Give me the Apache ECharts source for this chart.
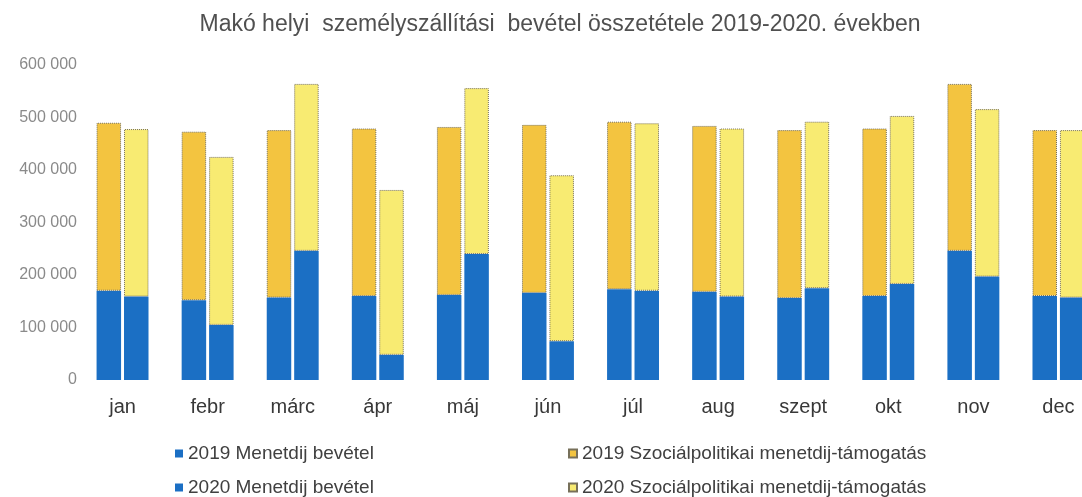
<!DOCTYPE html>
<html>
<head>
<meta charset="utf-8">
<script src="https://cdn.jsdelivr.net/npm/echarts@6/dist/echarts.min.js"></script>
<style>
  html, body { margin: 0; padding: 0; background: #ffffff; overflow: hidden; width: 1082px; height: 497px; }
  /* the plot runs on past the right edge, so the last month is clipped */
  #chart { width: 1101px; height: 497px; }
</style>
</head>
<body>
<div id="chart"></div>
<script>
// Monthly categories
const months = ['jan', 'febr', 'márc', 'ápr', 'máj', 'jún', 'júl', 'aug', 'szept', 'okt', 'nov', 'dec'];

// Fare revenue (Ft)
const fare2019 = [170000, 152000, 157000, 160000, 162000, 166000, 173000, 168000, 156000, 160000, 246000, 160000];
const fare2020 = [159000, 105000, 246000, 48000, 240000, 74000, 170000, 159000, 175000, 183000, 197000, 157000];

// Social-policy fare subsidy (Ft)
const subsidy2019 = [320000, 321000, 319000, 319000, 320000, 320000, 319000, 316000, 320000, 319000, 318000, 316000];
const subsidy2020 = [319000, 320000, 318000, 314000, 316000, 316000, 319000, 320000, 317000, 320000, 319000, 319000];

// Y-axis tick values
const yTicks = [0, 100000, 200000, 300000, 400000, 500000, 600000];

const seriesNames = [
  '2019 Menetdij bevétel',
  '2019 Szociálpolitikai menetdij-támogatás',
  '2020 Menetdij bevétel',
  '2020 Szociálpolitikai menetdij-támogatás'
];

const blue = '#1b6fc4';
const gold = '#f3c440';
const paleYellow = '#f8eb72';
const font = 'Liberation Sans, Arial, sans-serif';

function spaced(v) {
  return String(v).replace(/\B(?=(\d{3})+(?!\d))/g, ' ');
}

const chart = echarts.init(document.getElementById('chart'), null, { renderer: 'canvas' });

const legendText = { fontFamily: font, fontSize: 19, color: '#404040' };
function legendAt(name, left, top) {
  return {
    data: [name], left: left, top: top, orient: 'horizontal',
    icon: 'rect', itemWidth: 8, itemHeight: 8, itemGap: 4,
    textStyle: legendText, padding: 0, selectedMode: false
  };
}

const segmentBorder = { borderColor: '#77705a', borderWidth: 1, borderType: 'dotted' };

chart.setOption({
  backgroundColor: '#ffffff',
  animation: false,
  title: {
    text: 'Makó helyi  személyszállítási  bevétel összetétele 2019-2020. években',
    left: 555, top: 8, textAlign: 'center',
    textStyle: { fontFamily: font, fontSize: 23, fontWeight: 'normal', color: '#505050' }
  },
  legend: [
    legendAt(seriesNames[0], 175, 444),
    legendAt(seriesNames[1], 568, 444),
    legendAt(seriesNames[2], 175, 478),
    legendAt(seriesNames[3], 568, 478)
  ],
  grid: { left: 80, right: 0, top: 65, bottom: 117, containLabel: false },
  xAxis: {
    type: 'category',
    data: months,
    axisLine: { show: false },
    axisTick: { show: false },
    axisLabel: { margin: 17, fontFamily: font, fontSize: 20, color: '#383838' }
  },
  yAxis: {
    type: 'value',
    min: yTicks[0],
    max: yTicks[yTicks.length - 1],
    interval: yTicks[1] - yTicks[0],
    splitLine: { show: false },
    axisLine: { show: false },
    axisTick: { show: false },
    axisLabel: {
      margin: 3,
      fontFamily: font, fontSize: 16, color: '#8a8a8a',
      formatter: spaced
    }
  },
  series: [
    {
      name: seriesNames[0], type: 'bar', stack: 'y2019', data: fare2019,
      barWidth: 24.5, barGap: '12%', itemStyle: { color: blue }
    },
    {
      name: seriesNames[1], type: 'bar', stack: 'y2019', data: subsidy2019,
      itemStyle: Object.assign({ color: gold }, segmentBorder)
    },
    {
      name: seriesNames[2], type: 'bar', stack: 'y2020', data: fare2020,
      barWidth: 24.5, barGap: '12%', itemStyle: { color: blue }
    },
    {
      name: seriesNames[3], type: 'bar', stack: 'y2020', data: subsidy2020,
      itemStyle: Object.assign({ color: paleYellow }, segmentBorder)
    }
  ]
});
</script>
</body>
</html>
